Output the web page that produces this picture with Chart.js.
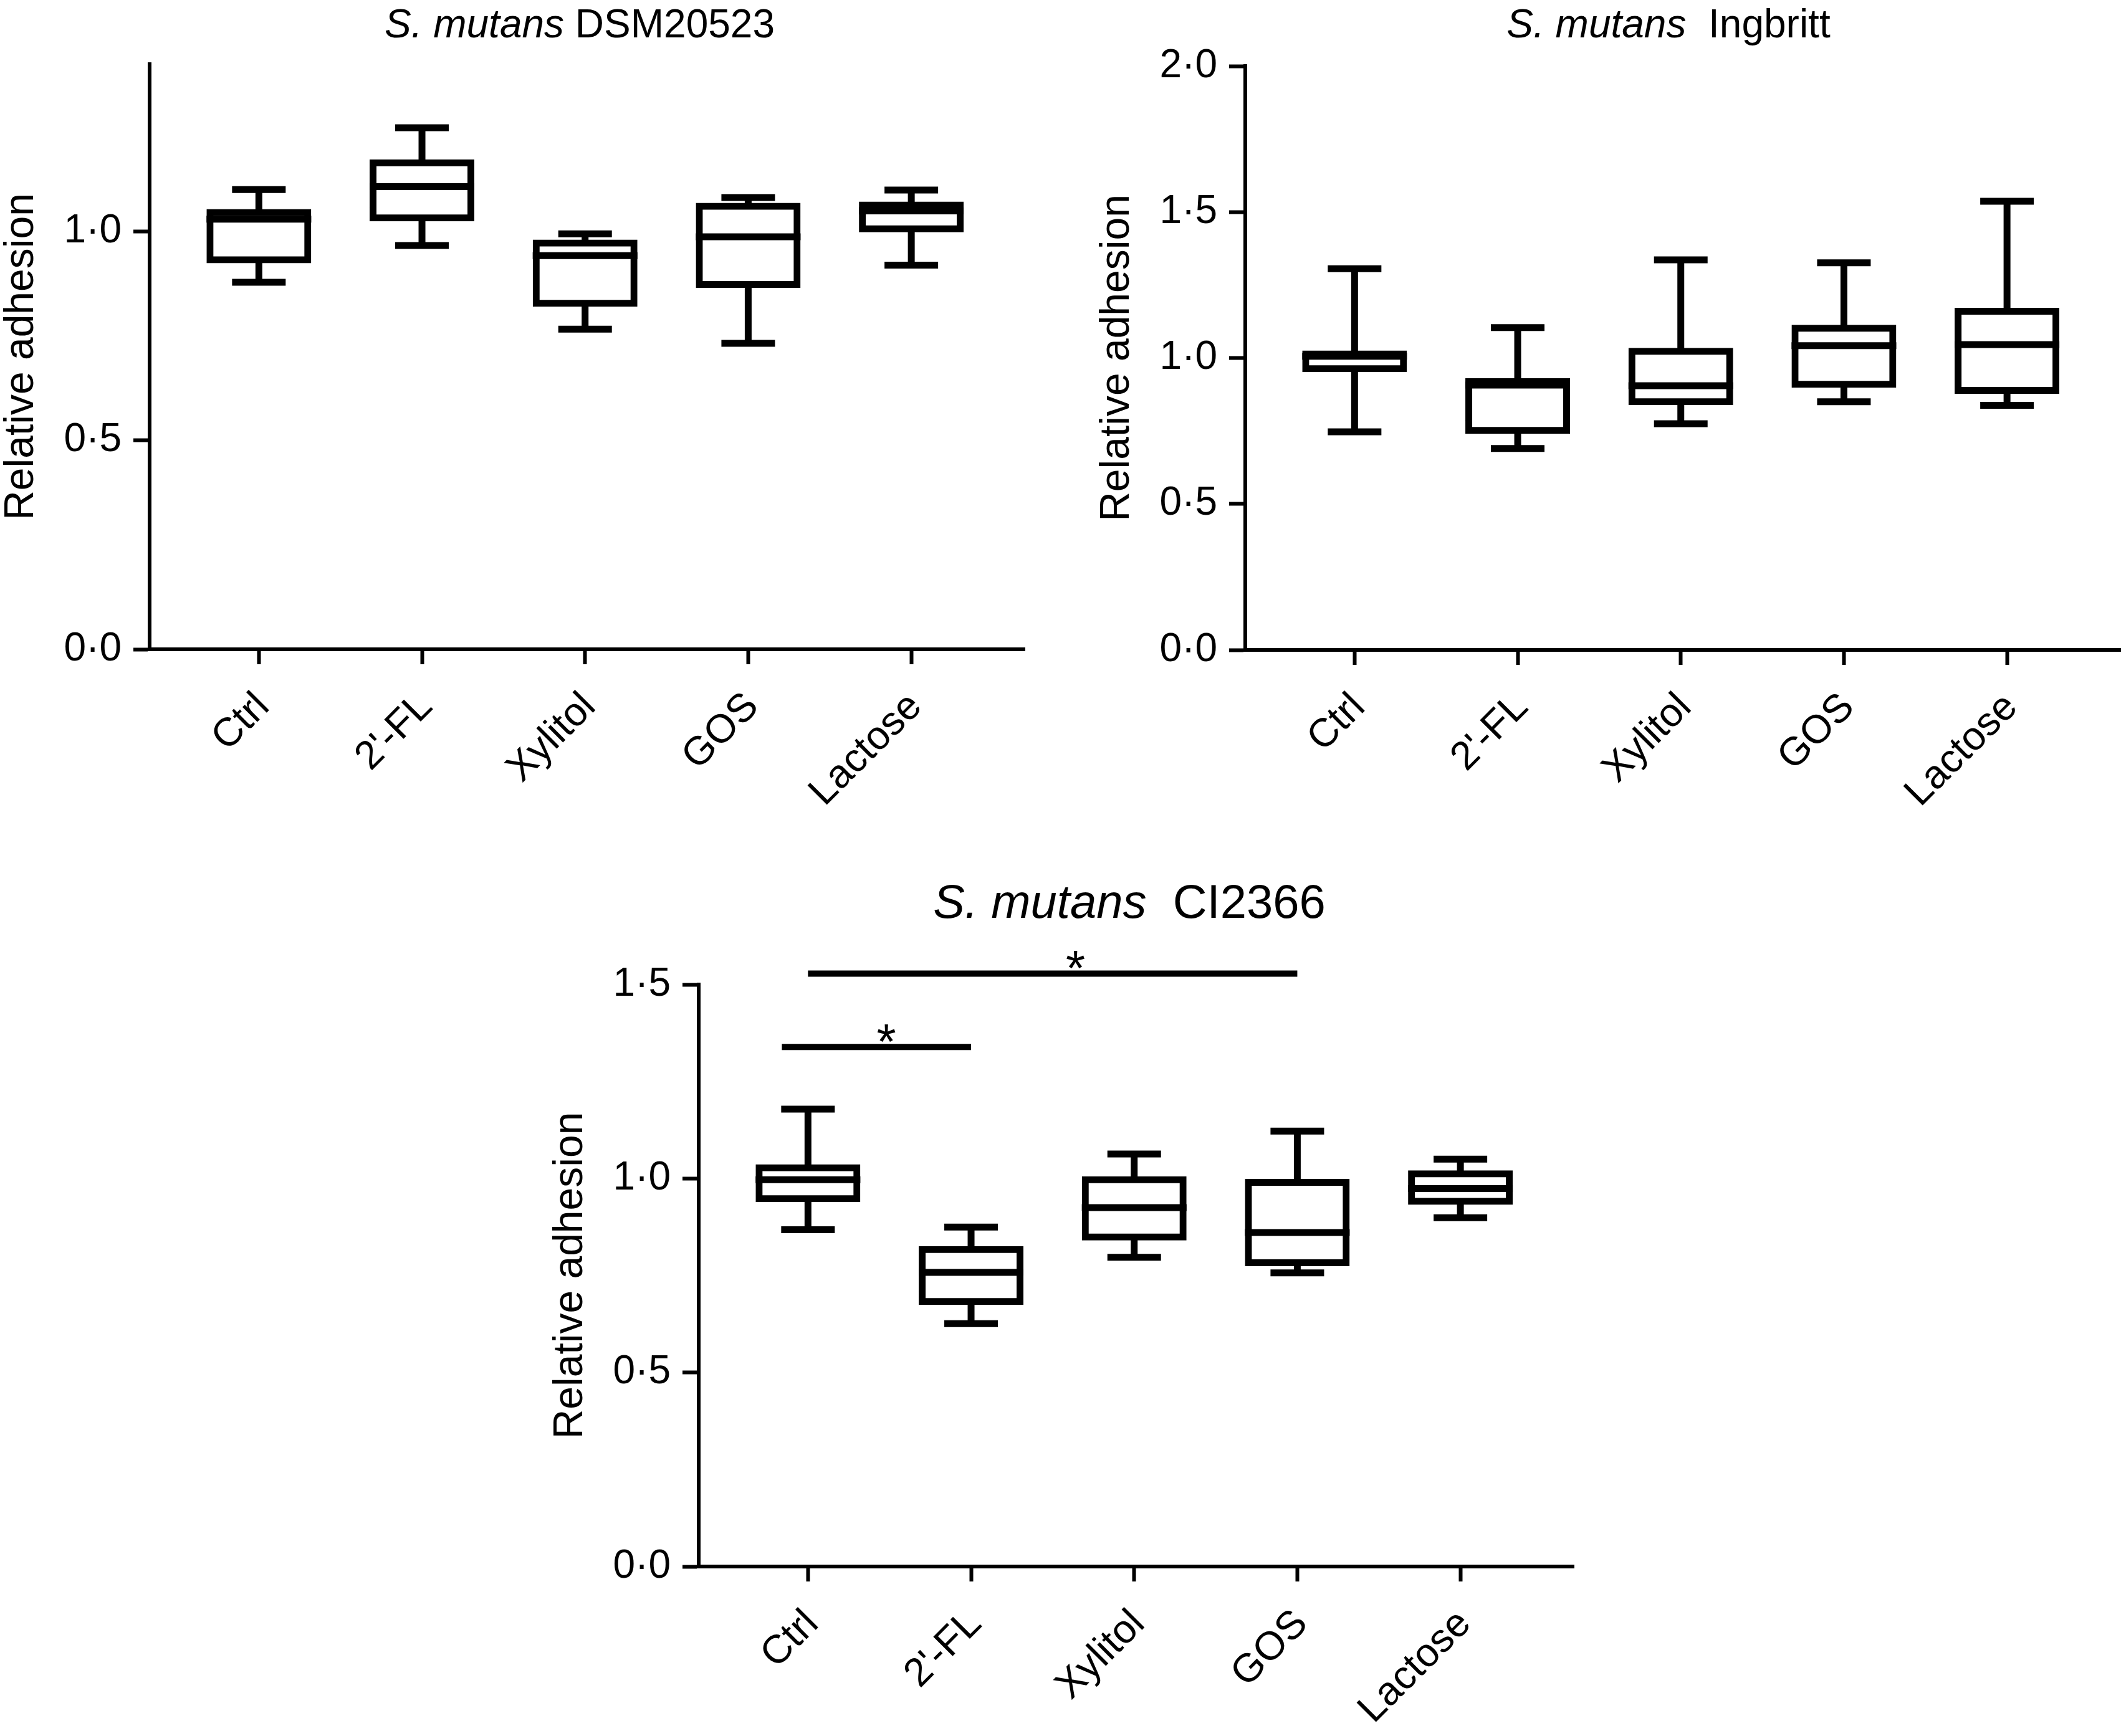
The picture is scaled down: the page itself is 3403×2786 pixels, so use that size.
<!DOCTYPE html>
<html>
<head>
<meta charset="utf-8">
<script src="https://cdn.jsdelivr.net/npm/chart.js@4.4.1/dist/chart.umd.min.js"></script>
<style>
  html, body { margin:0; padding:0; background:#fff; }
  body { width:3403px; height:2786px; position:relative; overflow:hidden; font-family:"Liberation Sans", Arial, sans-serif; }
  .panel { position:absolute; }
  .title { position:absolute; white-space:pre; text-align:center; line-height:1; color:#000; }
</style>
</head>
<body>
<div class="title" style="left:530px;top:6px;width:800px;font-size:64px"><i>S. mutans</i> DSM20523</div>
<div class="title" style="left:2277px;top:6px;width:800px;font-size:64px"><i>S. mutans</i>  Ingbritt</div>
<div class="title" style="left:1412px;top:1409px;width:800px;font-size:76px"><i>S. mutans</i>  CI2366</div>

<div class="panel" style="left:0px;top:0px;width:1645px;height:1320px"><canvas id="c1"></canvas></div>
<div class="panel" style="left:1758px;top:0px;width:1645px;height:1320px"><canvas id="c2"></canvas></div>
<div class="panel" style="left:881px;top:1480px;width:1645px;height:1306px"><canvas id="c3"></canvas></div>

<script>
const categories = ["Ctrl", "2'-FL", "Xylitol", "GOS", "Lactose"];

// S. mutans DSM20523
const dsmMax = [1.10, 1.248, 0.994, 1.081, 1.099];
const dsmQ3  = [1.045, 1.164, 0.972, 1.060, 1.063];
const dsmMed = [1.029, 1.107, 0.942, 0.987, 1.049];
const dsmQ1  = [0.932, 1.032, 0.828, 0.873, 1.006];
const dsmMin = [0.878, 0.966, 0.766, 0.732, 0.919];
const dsmTicks = [0, 0.5, 1.0];

// S. mutans Ingbritt
const ingMax = [1.306, 1.104, 1.336, 1.326, 1.537];
const ingQ3  = [1.014, 0.919, 1.023, 1.102, 1.160];
const ingMed = [1.006, 0.907, 0.905, 1.042, 1.046];
const ingQ1  = [0.963, 0.752, 0.850, 0.910, 0.889];
const ingMin = [0.747, 0.690, 0.775, 0.850, 0.838];
const ingTicks = [0, 0.5, 1.0, 1.5, 2.0];

// S. mutans CI2366
const ciMax = [1.179, 0.875, 1.063, 1.122, 1.050];
const ciQ3  = [1.028, 0.817, 0.997, 0.990, 1.012];
const ciMed = [0.997, 0.758, 0.925, 0.861, 0.974];
const ciQ1  = [0.948, 0.683, 0.849, 0.783, 0.941];
const ciMin = [0.868, 0.626, 0.797, 0.757, 0.899];
const ciTicks = [0, 0.5, 1.0, 1.5];

// significance bars (CI2366)
const ciBarFrom = [-0.16, 0];
const ciBarTo   = [1, 3];
const ciBarY    = [1.339, 1.528];
const ciStarX   = [0.48, 1.64];

const FONT = '"Liberation Sans", Arial, sans-serif';
Chart.defaults.font.family = FONT;
Chart.defaults.color = '#000';

const boxExtras = {
  id: 'boxExtras',
  afterDatasetsDraw(chart, args, opts) {
    const ctx = chart.ctx;
    const x = chart.scales.x, y = chart.scales.y;
    const s = opts.stats;
    const meta = chart.getDatasetMeta(0);
    const seg = (x1, y1, x2, y2, w) => {
      ctx.lineWidth = w;
      ctx.beginPath(); ctx.moveTo(x1, y1); ctx.lineTo(x2, y2); ctx.stroke();
    };
    ctx.save();
    ctx.strokeStyle = '#000';
    ctx.lineCap = 'butt';
    categories.forEach((c, i) => {
      const cx = x.getPixelForValue(i);
      const half = meta.data[i].width / 2 + 5.5;
      const yMax = y.getPixelForValue(s.max[i]);
      const yMin = y.getPixelForValue(s.min[i]);
      seg(cx, y.getPixelForValue(s.q3[i]), cx, yMax, 11);
      seg(cx, y.getPixelForValue(s.q1[i]), cx, yMin, 11);
      seg(cx - 43, yMax, cx + 43, yMax, 11);
      seg(cx - 43, yMin, cx + 43, yMin, 11);
      const ym = y.getPixelForValue(s.med[i]);
      seg(cx - half, ym, cx + half, ym, 11);
    });
    const b = opts.bars;
    if (b) {
      ctx.fillStyle = '#000';
      ctx.font = '80px ' + FONT;
      ctx.textAlign = 'center';
      ctx.textBaseline = 'alphabetic';
      b.from.forEach((f, k) => {
        const py = y.getPixelForValue(b.y[k]);
        seg(x.getPixelForValue(f), py, x.getPixelForValue(b.to[k]), py, 10);
        ctx.fillText('*', x.getPixelForValue(b.star[k]), py - 16 + 0.43 * 80);
      });
    }
    ctx.restore();
  }
};

function makeChart(id, s, yMax, yTicks, padTop, xHeight, bars) {
  return new Chart(document.getElementById(id), {
    type: 'bar',
    data: {
      datasets: [{
        data: categories.map((c, i) => ({ x: i, y: [s.q1[i], s.q3[i]] })),
        backgroundColor: '#fff',
        borderColor: '#000',
        borderWidth: 11,
        borderSkipped: false,
        inflateAmount: 5.5,
        barThickness: 157
      }]
    },
    options: {
      responsive: true,
      maintainAspectRatio: false,
      animation: false,
      events: [],
      layout: { padding: { top: padTop, right: 1, left: 0, bottom: 0 } },
      plugins: {
        legend: { display: false },
        tooltip: { enabled: false },
        boxExtras: { stats: s, bars: bars }
      },
      scales: {
        x: {
          type: 'linear',
          offset: false,
          min: -0.67,
          max: 4.695,
          afterBuildTicks: sc => { sc.ticks = categories.map((c, i) => ({ value: i })); },
          afterFit: sc => { sc.height = xHeight; },
          ticks: {
            autoSkip: false,
            minRotation: 45,
            maxRotation: 45,
            padding: 31,
            labelOffset: 7,
            font: { size: 64 },
            color: '#000',
            callback: v => categories[v]
          },
          grid: { offset: false, drawOnChartArea: false, tickLength: 24, tickWidth: 6, tickColor: '#000' },
          border: { color: '#000', width: 6 }
        },
        y: {
          min: 0,
          max: yMax,
          afterBuildTicks: sc => { sc.ticks = yTicks.map(v => ({ value: v })); },
          afterFit: sc => { sc.width = 240; },
          ticks: {
            padding: 19,
            font: { size: 64 },
            color: '#000',
            callback: v => v.toFixed(1).replace('.', '\u00b7')
          },
          grid: { drawOnChartArea: false, tickLength: 26, tickWidth: 6, tickColor: '#000' },
          border: { color: '#000', width: 6 },
          title: {
            display: true,
            text: 'Relative adhesion',
            color: '#000',
            font: { size: 66, lineHeight: 1 },
            padding: { top: 2, bottom: 0 }
          }
        }
      }
    },
    plugins: [boxExtras]
  });
}

makeChart('c1', { min: dsmMin, q1: dsmQ1, med: dsmMed, q3: dsmQ3, max: dsmMax }, 1.4, dsmTicks, 103, 278, null);
makeChart('c2', { min: ingMin, q1: ingQ1, med: ingMed, q3: ingQ3, max: ingMax }, 2.0, ingTicks, 106, 277, null);
makeChart('c3', { min: ciMin, q1: ciQ1, med: ciMed, q3: ciQ3, max: ciMax }, 1.5, ciTicks, 100, 272,
  { from: ciBarFrom, to: ciBarTo, y: ciBarY, star: ciStarX });
</script>
</body>
</html>
